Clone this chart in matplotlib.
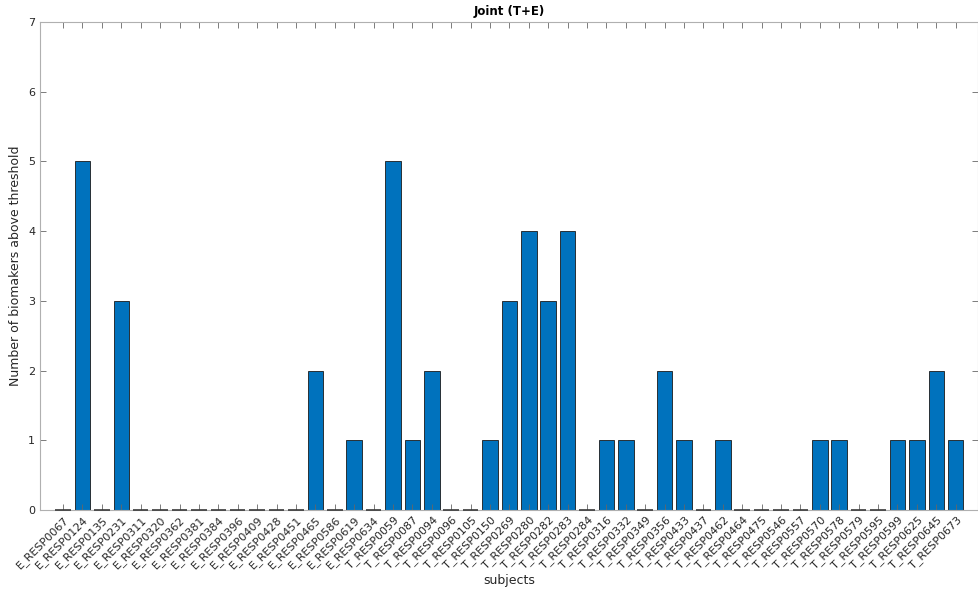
import matplotlib
matplotlib.use("Agg")
import matplotlib.pyplot as plt
import numpy as np

subjects = ["E_RESP0067", "E_RESP0124", "E_RESP0135", "E_RESP0231", "E_RESP0311", "E_RESP0320",
            "E_RESP0362", "E_RESP0381", "E_RESP0384", "E_RESP0396", "E_RESP0409", "E_RESP0428",
            "E_RESP0451", "E_RESP0465", "E_RESP0586", "E_RESP0619", "E_RESP0634",
            "T_RESP0059", "T_RESP0087", "T_RESP0094", "T_RESP0096", "T_RESP0105", "T_RESP0150",
            "T_RESP0269", "T_RESP0280", "T_RESP0282", "T_RESP0283", "T_RESP0284", "T_RESP0316",
            "T_RESP0332", "T_RESP0349", "T_RESP0356", "T_RESP0433", "T_RESP0437", "T_RESP0462",
            "T_RESP0464", "T_RESP0475", "T_RESP0546", "T_RESP0557", "T_RESP0570", "T_RESP0578",
            "T_RESP0579", "T_RESP0595", "T_RESP0599", "T_RESP0625", "T_RESP0645", "T_RESP0673"]
counts = [0, 5, 0, 3, 0, 0, 0, 0, 0, 0, 0, 0, 0, 2, 0, 1, 0,
          5, 1, 2, 0, 0, 1, 3, 4, 3, 4, 0, 1, 1, 0, 2, 1, 0, 1,
          0, 0, 0, 0, 1, 1, 0, 0, 1, 1, 2, 1]

fig = plt.figure(figsize=(9.79, 5.91), dpi=100)
ax = fig.add_axes([40/979, 1-510/591, (978-40)/979, (510-22)/591])
x = np.arange(1, len(subjects)+1)
vals = np.array(counts)
width = 0.8
ax.bar(x, vals, width=width, color="#0072BD", edgecolor="#1a1a1a", linewidth=0.6)
# zero-height bars appear as a flat edge line
zx = x[vals == 0]
ax.hlines(vals[vals == 0], zx - width/2, zx + width/2, colors="#3a3a3a", linewidth=1.2,
          zorder=3, clip_on=False)
ax.set_xlim(-0.19, 48.15)
ax.set_ylim(0, 7)
ax.set_xticks(x)
ax.set_xticklabels(subjects, rotation=45, ha="right", rotation_mode="anchor", fontsize=8, color="#262626")
ax.set_yticks(range(0, 8))
ax.tick_params(axis="both", direction="in", top=True, right=True, length=4, width=0.6,
               color="#666666", labelsize=8, labelcolor="#262626")
ax.tick_params(axis="x", pad=3)
for s in ax.spines.values():
    s.set_color("#b0b0b0")
    s.set_linewidth(0.8)
ax.set_title("Joint (T+E)", fontsize=8.5, fontweight="bold", color="#000000", pad=5)
ax.set_ylabel("Number of biomakers above threshold", fontsize=9, color="#262626")
ax.set_xlabel("subjects", fontsize=9, color="#262626", labelpad=2)
fig.savefig("out.png", dpi=100)
